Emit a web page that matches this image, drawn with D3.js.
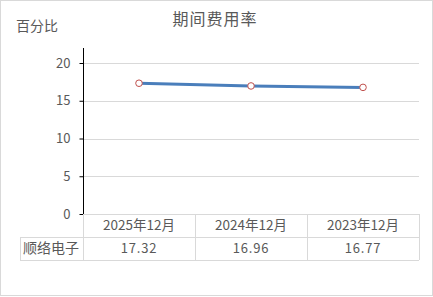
<!DOCTYPE html>
<html>
<head>
<meta charset="utf-8">
<script src="https://cdn.jsdelivr.net/npm/d3@7"></script>
<style>
  body { margin: 0; background: #fff; }
  text { font-family: "Noto Sans CJK SC", "Noto Sans", sans-serif; fill: #595959; }
</style>
</head>
<body>
<div class="usable"></div>
<script>
// 数据
const categories = ["2025年12月", "2024年12月", "2023年12月"]
const seriesName = "顺络电子"
const values = [17.32, 16.96, 16.77]
const yTicks = [0, 5, 10, 15, 20]

const width = 433,
  height = 297

const plotLeft = 83, plotRight = 419, plotTop = 48, plotBottom = 214
const rowH = 23

let svg = d3.select(".usable").append("svg")
  .attr("width", width)
  .attr("height", height)

// borde exterior
svg.append("rect").attr("x", 0.5).attr("y", 0.5).attr("width", width - 1).attr("height", height - 2)
  .attr("fill", "#fff").attr("stroke", "#d9d9d9")

let x = d3.scaleBand().domain(categories).range([plotLeft, plotRight])
let y = d3.scaleLinear().domain([0, 20]).range([plotBottom, 63])

// lineas de la grilla
svg.selectAll(".grid").data(yTicks.filter(d => d > 0)).enter().append("line")
  .attr("x1", plotLeft).attr("x2", plotRight)
  .attr("y1", d => Math.round(y(d)) + 0.5).attr("y2", d => Math.round(y(d)) + 0.5)
  .attr("stroke", "#d9d9d9")

// eje y
let axis = svg.append("g").attr("transform", "translate(" + (plotLeft + 0.5) + ",0)")
  .call(d3.axisLeft(y).tickValues(yTicks).tickSize(4).tickPadding(9))
axis.select(".domain").remove()
axis.selectAll(".tick line").attr("stroke", "#000")
axis.selectAll(".tick text").style("font-size", "13px").attr("fill", "#595959")
  .style("font-family", "\"Noto Sans CJK SC\", sans-serif")
svg.append("line").attr("x1", plotLeft + 0.5).attr("x2", plotLeft + 0.5).attr("y1", plotTop).attr("y2", plotBottom)
  .attr("stroke", "#000")

// tabla de datos
let tg = svg.append("g")
let tableStroke = "#d9d9d9"
tg.append("line").attr("x1", plotLeft).attr("x2", plotRight).attr("y1", plotBottom + 0.5).attr("y2", plotBottom + 0.5).attr("stroke", tableStroke)
tg.append("line").attr("x1", 20).attr("x2", plotRight).attr("y1", plotBottom + rowH + 0.5).attr("y2", plotBottom + rowH + 0.5).attr("stroke", tableStroke)
tg.append("line").attr("x1", 20).attr("x2", plotRight).attr("y1", plotBottom + 2 * rowH + 0.5).attr("y2", plotBottom + 2 * rowH + 0.5).attr("stroke", tableStroke)
tg.append("line").attr("x1", 20.5).attr("x2", 20.5).attr("y1", plotBottom + rowH).attr("y2", plotBottom + 2 * rowH).attr("stroke", tableStroke)
let cols = [plotLeft].concat(categories.map(c => x(c) + x.bandwidth()))
cols.forEach(cx => {
  tg.append("line").attr("x1", Math.round(cx) + 0.5).attr("x2", Math.round(cx) + 0.5)
    .attr("y1", plotBottom).attr("y2", plotBottom + 2 * rowH).attr("stroke", tableStroke)
})
categories.forEach((c, i) => {
  tg.append("text").text(c).attr("x", x(c) + x.bandwidth() / 2).attr("y", plotBottom + 16)
    .attr("text-anchor", "middle").style("font-size", "13.5px")
  tg.append("text").text(values[i].toFixed(2)).attr("x", x(c) + x.bandwidth() / 2).attr("y", plotBottom + rowH + 16)
    .attr("text-anchor", "middle").style("font-size", "13px").style("letter-spacing", "0.8px")
})
tg.append("text").text(seriesName).attr("x", 23).attr("y", plotBottom + rowH + 16).style("font-size", "14px")

// linea de la serie
let line = d3.line().x((d, i) => x(categories[i]) + x.bandwidth() / 2).y(d => y(d))
svg.append("path").datum(values).attr("d", line)
  .attr("fill", "none").attr("stroke", "#4a7ebb").attr("stroke-width", 3)
svg.selectAll(".pt").data(values).enter().append("circle")
  .attr("cx", (d, i) => x(categories[i]) + x.bandwidth() / 2).attr("cy", d => y(d)).attr("r", 3.3)
  .attr("fill", "#fff").attr("stroke", "#c0504d").attr("stroke-width", 1)

// titulos
svg.append("text").text("期间费用率").attr("x", 215).attr("y", 25).attr("text-anchor", "middle")
  .style("font-size", "16px").style("letter-spacing", "1px")
svg.append("text").text("百分比").attr("x", 16).attr("y", 31).style("font-size", "14px")
</script>
</body>
</html>
